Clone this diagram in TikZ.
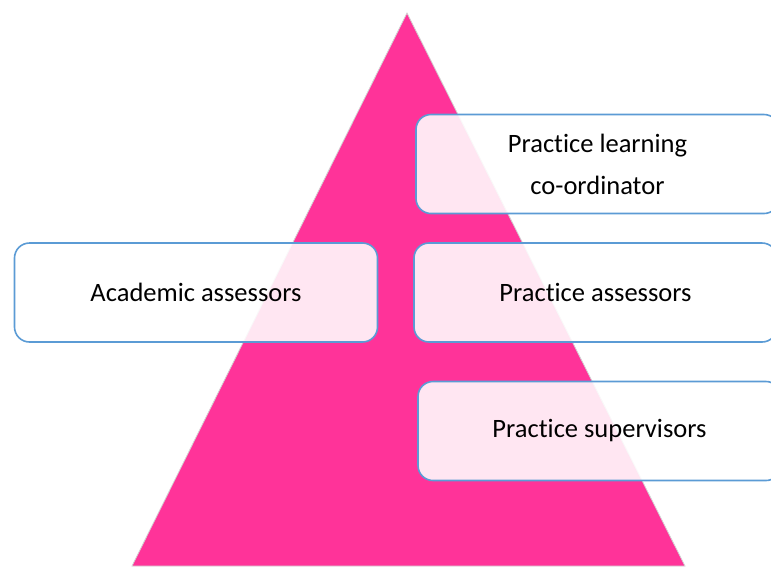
\documentclass[tikz,border=0pt]{standalone}
\usepackage{fontspec}
\setmainfont[Ligatures={NoCommon}]{Carlito}
\usetikzlibrary{positioning}
\definecolor{pyramidpink}{RGB}{255,51,153}
\definecolor{boxblue}{RGB}{91,155,213}

\begin{document}
\begin{tikzpicture}[x=1pt, y=-1pt]
      \tikzstyle{role}=[draw=boxblue, line width=1.6pt, rounded corners=15pt,
        fill=white, fill opacity=0.88, text opacity=1,
        minimum width=363pt, minimum height=99pt, align=center,
        font=\fontsize{26.5}{42}\selectfont]

      % Fix the picture size and cut off what runs past the right edge.
      \useasboundingbox (0,0) rectangle (771,566);
      \clip (0,0) rectangle (771,566);

      % The pyramid behind the boxes.
      \coordinate (apex) at (407,13);
      \coordinate (baseL) at (132,566);
      \coordinate (baseR) at (685,566);
      \fill[pyramidpink, draw=gray!35, line width=0.8pt]
        (apex) -- (baseR) -- (baseL) -- cycle;

      % Place each box by its centre.
      \node[role]
        (plc) at (597.5,164)    % top right.
        {Practice learning\\co-ordinator};
      \node[role]
        (acad) at (196,292.5)   % middle left.
        {Academic assessors};
      \node[role]
        (passr) at (595.5,292.5) % middle right.
        {Practice assessors};
      \node[role]
        (psup) at (599.5,431)   % bottom right.
        {Practice supervisors};
    \end{tikzpicture}
\end{document}
